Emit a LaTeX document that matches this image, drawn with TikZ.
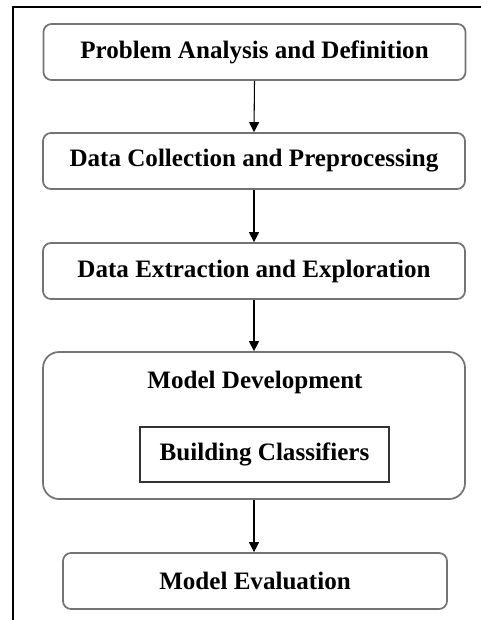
\documentclass[tikz,border=0pt]{standalone}
\usepackage{fontspec}
\setmainfont{Liberation Serif}
\usetikzlibrary{arrows.meta}
\begin{document}
\begin{tikzpicture}[x=0.75pt,y=-0.75pt,
  stage/.style={draw=black!55, line width=1.3pt, rounded corners=6pt, fill=white,
    minimum width=316.5pt, minimum height=42pt, inner sep=0pt,
    font=\fontsize{18.8}{22}\selectfont\bfseries},
  group/.style={draw=black!55, line width=1.3pt, rounded corners=12pt, fill=white},
  inner/.style={draw=black!80, line width=1.1pt, fill=white,
    minimum width=186.75pt, minimum height=41.25pt, inner sep=0pt,
    font=\fontsize{18.8}{22}\selectfont\bfseries},
  label/.style={inner sep=0pt, font=\fontsize{18.8}{22}\selectfont\bfseries},
  flow/.style={-{Triangle[length=7.5pt,width=7.5pt]}, line width=0.8pt, black}]

\useasboundingbox (0,0) rectangle (481,620);
\fill[white] (0,0) rectangle (481,620);

% page frame, open to the right and bottom
\draw[line width=1.6pt] (13,622) -- (13,7) -- (483,7);

\node[stage] (s1) at (254.5,52) {Problem Analysis and Definition};
\node[stage] (s2) at (254,161) {Data Collection and Preprocessing};
\node[stage] (s3) at (254,271) {Data Extraction and Exploration};

\node[group, minimum width=316.5pt, minimum height=110.25pt] (dev) at (254,425.5) {};
\node[label] (devt) at (255,382) {Model Development};
\node[inner] (bc) at (264.5,454.5) {Building Classifiers};

\node[stage, minimum width=288pt] (s5) at (255,581) {Model Evaluation};

\draw[flow] (s1.south) -- (s2.north);
\draw[flow] (s2.south) -- (s3.north);
\draw[flow] (s3.south) -- (s3.south |- dev.north);
\draw[flow] (s3.south |- dev.south) -- (s5.north -| s3.south);
\end{tikzpicture}
\end{document}
